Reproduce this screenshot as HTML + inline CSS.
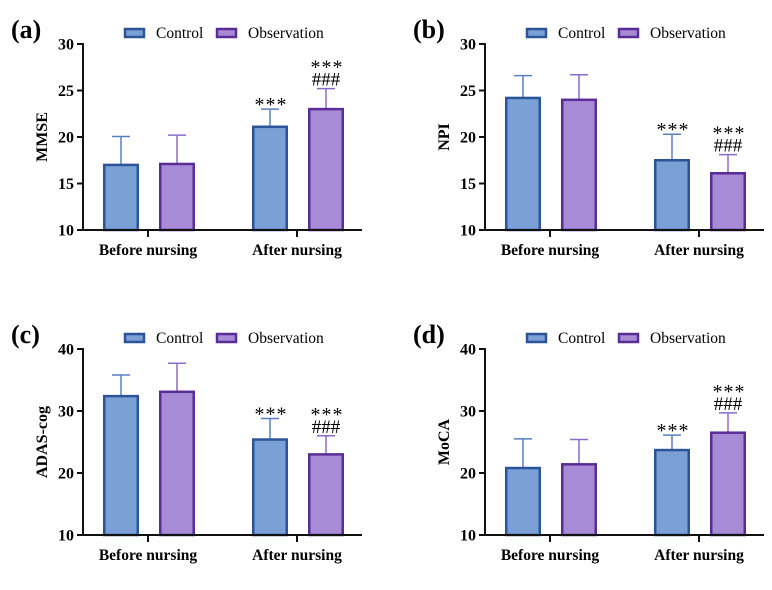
<!DOCTYPE html>
<html><head><meta charset="utf-8"><style>
html,body{margin:0;padding:0;background:#fff;}
svg, svg text{font-family:"Liberation Serif","DejaVu Serif",serif;}
</style></head><body>
<svg id="fig" width="772" height="585" viewBox="0 0 772 585" xmlns="http://www.w3.org/2000/svg" font-family="Liberation Serif, DejaVu Serif, serif"></svg>
<script>
const categories = ["Before nursing", "After nursing"];
const seriesNames = ["Control", "Observation"];
const mmseControl = [17.0, 21.1];
const mmseControlErr = [3.05, 1.9];
const mmseObs = [17.1, 23.0];
const mmseObsErr = [3.1, 2.2];
const npiControl = [24.2, 17.5];
const npiControlErr = [2.4, 2.8];
const npiObs = [24.0, 16.1];
const npiObsErr = [2.7, 2.0];
const adasControl = [32.4, 25.4];
const adasControlErr = [3.4, 3.4];
const adasObs = [33.1, 23.0];
const adasObsErr = [4.6, 3.0];
const mocaControl = [20.8, 23.7];
const mocaControlErr = [4.7, 2.4];
const mocaObs = [21.4, 26.5];
const mocaObsErr = [4.0, 3.2];
const ticksA = [10, 15, 20, 25, 30];
const ticksC = [10, 20, 30, 40];
const annotControl = [[], ["***"]];
const annotObs = [[], ["***", "###"]];

const NS = "http://www.w3.org/2000/svg";
const svg = document.getElementById("fig");
const SERIF = "Liberation Serif, DejaVu Serif, serif";
function mk(tag, attrs, parent, text) {
  const e = document.createElementNS(NS, tag);
  for (const k in attrs) e.setAttribute(k, attrs[k]);
  if (tag === "text" && !attrs["font-family"]) e.setAttribute("font-family", SERIF);
  if (text !== undefined) e.textContent = text;
  (parent || svg).appendChild(e);
  return e;
}
const FILL = ["#7ba0d6", "#a78bd6"], STROKE = ["#2b5598", "#5a2d96"], ERR = ["#5a7fc0", "#8a6cc8"];

function panel(p) {
  const g = mk("g", {});
  
  
  const ymin = p.ticks[0], ymax = p.ticks[p.ticks.length - 1];
  const y = v => p.bottom - (v - ymin) / (ymax - ymin) * (p.bottom - p.top);
  const catX = i => p.ax + 65 + i * 149;
  const barX = (i, s) => catX(i) - 45 + s * 56;
  const lab = mk("text", {x: p.ax - 72, y: p.top - 6, "font-size": 26, "font-weight": "bold"}, g, "(" + p.id + ")");
  
  
  for (let s = 0; s < 2; s++) {
    const lx = p.ax + 42 + s * 92;
    const lr = mk("rect", {x: lx, y: p.top - 15, width: 19, height: 8, fill: FILL[s], stroke: STROKE[s], "stroke-width": 2.5}, g);
    
    
    const lt = mk("text", {x: lx + 31, y: p.top - 6, "font-size": 15.5}, g, seriesNames[s]);
    
    
  }
  for (let s = 0; s < 2; s++) {
    const vals = s ? p.obs : p.ctrl, errs = s ? p.obsErr : p.ctrlErr, ann = s ? annotObs : annotControl;
    for (let i = 0; i < vals.length; i++) {
      const x0 = barX(i, s), cx = x0 + 18, top = y(vals[i] + errs[i]);
      const el = mk("line", {x1: cx, x2: cx, y1: y(vals[i]), y2: top, stroke: ERR[s], "stroke-width": 1.5}, g);
      
      
      const cap = mk("line", {x1: cx - 9, x2: cx + 9, y1: top, y2: top, stroke: ERR[s], "stroke-width": 1.5}, g);
      
      
      const b = mk("rect", {x: x0 + 1.25, y: y(vals[i]), width: 33.5, height: p.bottom - y(vals[i]), fill: FILL[s], stroke: STROKE[s], "stroke-width": 2.5}, g);
      
      
      const a = ann[i];
      for (let k = 0; k < a.length; k++) {
        const isHash = a[k] === "###";
        const base = a.length === 1 ? top + 2 : (isHash ? top - 3 : top - 15);
        const t = mk("text", {x: cx + (isHash ? 0 : 1), y: base, "text-anchor": "middle", "font-size": isHash ? 19 : 20, "letter-spacing": isHash ? 0 : 1, "font-family": isHash ? SERIF : "Liberation Sans, DejaVu Sans, sans-serif"}, g, a[k]);
        
        
      }
    }
  }
  const ya = mk("line", {x1: p.ax, x2: p.ax, y1: p.top - 1, y2: p.bottom + 1, stroke: "#111", "stroke-width": 2}, g);
  
  
  const xa = mk("line", {x1: p.ax - 1, x2: p.ax + 279, y1: p.bottom, y2: p.bottom, stroke: "#111", "stroke-width": 2}, g);
  
  
  for (const t of p.ticks) {
    const tl = mk("line", {x1: p.ax - 6, x2: p.ax, y1: y(t), y2: y(t), stroke: "#111", "stroke-width": 2}, g);
    
    
    const tt = mk("text", {x: p.ax - 9, y: y(t) + 5.5, "text-anchor": "end", "font-size": 16, "font-weight": "bold"}, g, String(t));
    
    
  }
  for (let i = 0; i < categories.length; i++) {
    const tl = mk("line", {x1: catX(i), x2: catX(i), y1: p.bottom, y2: p.bottom + 7, stroke: "#111", "stroke-width": 2}, g);
    
    
    const tt = mk("text", {x: catX(i), y: p.bottom + 25, "text-anchor": "middle", "font-size": 15.5, "font-weight": "bold"}, g, categories[i]);
    
    
  }
  const cy = (p.top + p.bottom) / 2, tx = p.ax - 36;
  const yt = mk("text", {x: tx, y: cy, transform: "rotate(-90 " + tx + " " + cy + ")", "text-anchor": "middle", "font-size": 16, "font-weight": "bold"}, g, p.title);
  
  
}
panel({id: "a", ax: 83, top: 44, bottom: 230, ticks: ticksA, title: "MMSE", ctrl: mmseControl, ctrlErr: mmseControlErr, obs: mmseObs, obsErr: mmseObsErr});
panel({id: "b", ax: 485, top: 44, bottom: 230, ticks: ticksA, title: "NPI", ctrl: npiControl, ctrlErr: npiControlErr, obs: npiObs, obsErr: npiObsErr});
panel({id: "c", ax: 83, top: 349, bottom: 535, ticks: ticksC, title: "ADAS-cog", ctrl: adasControl, ctrlErr: adasControlErr, obs: adasObs, obsErr: adasObsErr});
panel({id: "d", ax: 485, top: 349, bottom: 535, ticks: ticksC, title: "MoCA", ctrl: mocaControl, ctrlErr: mocaControlErr, obs: mocaObs, obsErr: mocaObsErr});
</script>
</body></html>
